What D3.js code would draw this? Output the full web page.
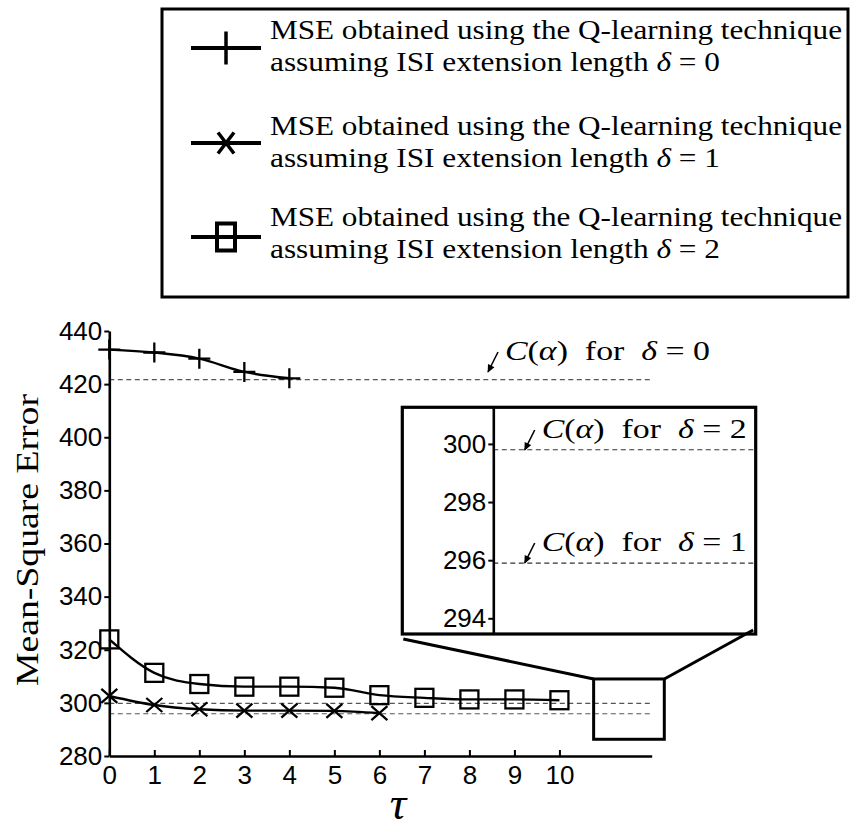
<!DOCTYPE html>
<html>
<head>
<meta charset="utf-8">
<script src="https://cdn.jsdelivr.net/npm/d3@7"></script>
<style>
  body { margin: 0; background: #fff; }
  svg { display: block; }
  text { white-space: pre; }
</style>
</head>
<body>
<script>
var svgWidth = 850;
var svgHeight = 829;

// tick labels
var tauTicks = [0, 1, 2, 3, 4, 5, 6, 7, 8, 9, 10];
var mseTicks = [280, 300, 320, 340, 360, 380, 400, 420, 440];
var insetTicks = [294, 296, 298, 300];

// series
var tauDelta0 = [0, 1, 2, 3, 4];
var mseDelta0 = [433.0, 431.9, 429.6, 424.6, 422.2];
var tauDelta1 = [0, 1, 2, 3, 4, 5, 6];
var mseDelta1 = [302.6, 299.2, 297.6, 297.1, 297.1, 297.0, 296.1];
var tauDelta2 = [0, 1, 2, 3, 4, 5, 6, 7, 8, 9, 10];
var mseDelta2 = [323.9, 311.3, 307.1, 306.1, 306.1, 305.7, 302.9, 301.9, 301.3, 301.3, 301.0];

// C(alpha) bound for delta = 0, 1, 2
var boundDelta = [0, 1, 2];
var boundValue = [421.7, 295.9, 299.8];

// zoomed region (tau range, mse range)
var zoomTau = [10.76, 12.33];
var zoomMse = [286.3, 309.0];

var seriesNames = ["plus", "cross", "square"];

var serif = "'Liberation Serif', 'DejaVu Serif', serif";
var sans = "'Liberation Sans', Arial, sans-serif";

var x = d3.scaleLinear().domain([0, 12.05]).range([109.3, 651.7]);
var y = d3.scaleLinear().domain([280, 440]).range([756, 331]);

var svg = d3.select("body")
    .append("svg")
    .attr("width", svgWidth)
    .attr("height", svgHeight);

var defs = svg.append("defs");
defs.append("marker")
    .attr("id", "head")
    .attr("markerUnits", "userSpaceOnUse")
    .attr("viewBox", "0 -5 10 10")
    .attr("refX", 9)
    .attr("refY", 0)
    .attr("markerWidth", 9)
    .attr("markerHeight", 8)
    .attr("orient", "auto")
    .append("path")
    .attr("d", "M0,-4.5L10,0L0,4.5Z")
    .attr("fill", "black");

// markers
function drawMarker(g, kind, sx, sy, sw) {
    if (kind === "plus") {
        g.append("path").attr("d", "M" + (-11 * sx) + ",0H" + (11 * sx) + "M0," + (-10 * sy) + "V" + (10 * sy))
            .attr("stroke", "black").attr("stroke-width", sw).attr("fill", "none");
    } else if (kind === "cross") {
        g.append("path").attr("d", "M" + (-8 * sx) + "," + (-7 * sy) + "L" + (8 * sx) + "," + (7 * sy) +
                "M" + (-8 * sx) + "," + (7 * sy) + "L" + (8 * sx) + "," + (-7 * sy))
            .attr("stroke", "black").attr("stroke-width", sw).attr("fill", "none");
    } else {
        g.append("rect").attr("x", -9 * sx).attr("y", -9 * sy).attr("width", 18 * sx).attr("height", 18 * sy)
            .attr("stroke", "black").attr("stroke-width", sw).attr("fill", "none");
    }
}

// dashed bounds across main axis
svg.selectAll(".bound")
    .data(boundValue).enter()
    .append("line")
    .attr("x1", x(0))
    .attr("x2", x(12.05))
    .attr("y1", d => y(d))
    .attr("y2", d => y(d))
    .attr("stroke", "#555")
    .attr("stroke-width", 1.2)
    .attr("stroke-dasharray", "5,3.5");

// axes
var yAxis = svg.append("g")
    .attr("transform", "translate(" + x(0) + ",0)")
    .call(d3.axisLeft(y).tickValues(mseTicks).tickSize(5).tickSizeOuter(0).tickPadding(2));
var xAxis = svg.append("g")
    .attr("transform", "translate(0," + y(280) + ")")
    .call(d3.axisBottom(x).tickValues(tauTicks).tickSize(-6).tickSizeOuter(0).tickPadding(10));
[yAxis, xAxis].forEach(function (a) {
    a.select(".domain").attr("stroke-width", 2.6);
    a.selectAll(".tick line").attr("stroke-width", 2);
    a.selectAll("text").attr("font-family", sans).attr("fill", "black");
});
yAxis.selectAll("text").attr("font-size", 26);
xAxis.selectAll("text").attr("font-size", 26);

// series
var line = d3.line()
    .x(d => x(d[0]))
    .y(d => y(d[1]))
    .curve(d3.curveMonotoneX);

var series = [
    d3.zip(tauDelta0, mseDelta0),
    d3.zip(tauDelta1, mseDelta1),
    d3.zip(tauDelta2, mseDelta2)
];

series.forEach(function (s, k) {
    svg.append("path")
        .attr("d", line(s))
        .attr("fill", "none")
        .attr("stroke", "black")
        .attr("stroke-width", 2.4);
    s.forEach(function (p) {
        var g = svg.append("g").attr("transform", "translate(" + x(p[0]) + "," + y(p[1]) + ")");
        drawMarker(g, seriesNames[k], 1, 1, 2.3);
    });
});

// annotation text helper: C(alpha) for delta = n
function boundLabel(px, py, n, len) {
    var t = svg.append("text")
        .attr("x", px)
        .attr("y", py)
        .attr("font-family", serif)
        .attr("font-size", 28)
        .attr("textLength", len)
        .attr("lengthAdjust", "spacingAndGlyphs");
    t.append("tspan").attr("font-style", "italic").text("C");
    t.append("tspan").text("(");
    t.append("tspan").attr("font-style", "italic").text("α");
    t.append("tspan").text(")  for  ");
    t.append("tspan").attr("font-style", "italic").text("δ");
    t.append("tspan").text(" = " + n);
    svg.append("line")
        .attr("x1", px - 7).attr("y1", py - 8)
        .attr("x2", px - 17).attr("y2", py + 12)
        .attr("stroke", "black")
        .attr("stroke-width", 1.6)
        .attr("marker-end", "url(#head)");
}

boundLabel(505, 360, boundDelta[0], 205);

// zoom box on main axis
var zx0 = x(zoomTau[0]), zx1 = x(zoomTau[1]);
var zy0 = y(zoomMse[1]), zy1 = y(zoomMse[0]);
svg.append("rect")
    .attr("x", zx0).attr("y", zy0)
    .attr("width", zx1 - zx0).attr("height", zy1 - zy0)
    .attr("fill", "none").attr("stroke", "black").attr("stroke-width", 3);

// inset
var inset = { left: 402.3, top: 407.3, right: 755.7, bottom: 634, axisX: 493.3 };
var yIn = d3.scaleLinear().domain([293.46, 301.26]).range([inset.bottom, inset.top]);

svg.selectAll(".inBound")
    .data(boundValue.slice(1)).enter()
    .append("line")
    .attr("x1", inset.axisX)
    .attr("x2", inset.right)
    .attr("y1", d => yIn(d))
    .attr("y2", d => yIn(d))
    .attr("stroke", "#333")
    .attr("stroke-width", 1.2)
    .attr("stroke-dasharray", "5,3.5");

svg.append("rect")
    .attr("x", inset.left).attr("y", inset.top)
    .attr("width", inset.right - inset.left).attr("height", inset.bottom - inset.top)
    .attr("fill", "none").attr("stroke", "black").attr("stroke-width", 3.2);

var inAxis = svg.append("g")
    .attr("transform", "translate(" + inset.axisX + ",0)")
    .call(d3.axisLeft(yIn).tickValues(insetTicks).tickSize(5).tickSizeOuter(0).tickPadding(2));
inAxis.select(".domain").attr("stroke-width", 2.6);
inAxis.selectAll(".tick line").attr("stroke-width", 2);
inAxis.selectAll("text").attr("font-family", sans).attr("font-size", 26).attr("fill", "black");

boundLabel(541.7, 438, boundDelta[2], 205);
boundLabel(541.7, 551, boundDelta[1], 205);

// connectors from zoom box to inset
svg.append("line")
    .attr("x1", inset.left + 1).attr("y1", inset.bottom + 5)
    .attr("x2", zx0).attr("y2", zy0)
    .attr("stroke", "black").attr("stroke-width", 3);
svg.append("line")
    .attr("x1", zx1).attr("y1", zy0)
    .attr("x2", inset.right - 2.5).attr("y2", inset.bottom - 4)
    .attr("stroke", "black").attr("stroke-width", 3);

// axis titles
svg.append("text")
    .attr("transform", "translate(38,540) rotate(-90)")
    .attr("text-anchor", "middle")
    .attr("font-family", serif)
    .attr("font-size", 32)
    .attr("textLength", 292)
    .attr("lengthAdjust", "spacingAndGlyphs")
    .text("Mean-Square Error");

svg.append("text")
    .attr("x", 398)
    .attr("y", 819)
    .attr("text-anchor", "middle")
    .attr("font-family", serif)
    .attr("font-style", "italic")
    .attr("font-size", 46)
    .text("τ");

// legend
var legend = svg.append("g");
legend.append("rect")
    .attr("x", 162).attr("y", 9)
    .attr("width", 686).attr("height", 288)
    .attr("fill", "none").attr("stroke", "black").attr("stroke-width", 3);

var legendY = [48, 143, 237];
var legendBase = [[39, 71], [135, 167], [226, 258]];

seriesNames.forEach(function (kind, k) {
    legend.append("line")
        .attr("x1", 191).attr("x2", 261)
        .attr("y1", legendY[k]).attr("y2", legendY[k])
        .attr("stroke", "black").attr("stroke-width", 4);
    var g = legend.append("g").attr("transform", "translate(226," + legendY[k] + ")");
    if (kind === "plus") drawMarker(g, kind, 0, 1.65, 3.5);
    else if (kind === "cross") drawMarker(g, kind, 1, 1.5, 3.5);
    else drawMarker(g, kind, 1, 1.5, 4);

    legend.append("text")
        .attr("x", 270).attr("y", legendBase[k][0])
        .attr("font-family", serif).attr("font-size", 27)
        .attr("textLength", 572).attr("lengthAdjust", "spacingAndGlyphs")
        .text("MSE obtained using the Q-learning technique");
    var t = legend.append("text")
        .attr("x", 270).attr("y", legendBase[k][1])
        .attr("font-family", serif).attr("font-size", 27)
        .attr("textLength", 450).attr("lengthAdjust", "spacingAndGlyphs");
    t.append("tspan").text("assuming ISI extension length ");
    t.append("tspan").attr("font-style", "italic").text("δ");
    t.append("tspan").text(" = " + boundDelta[k]);
});
</script>
</body>
</html>
